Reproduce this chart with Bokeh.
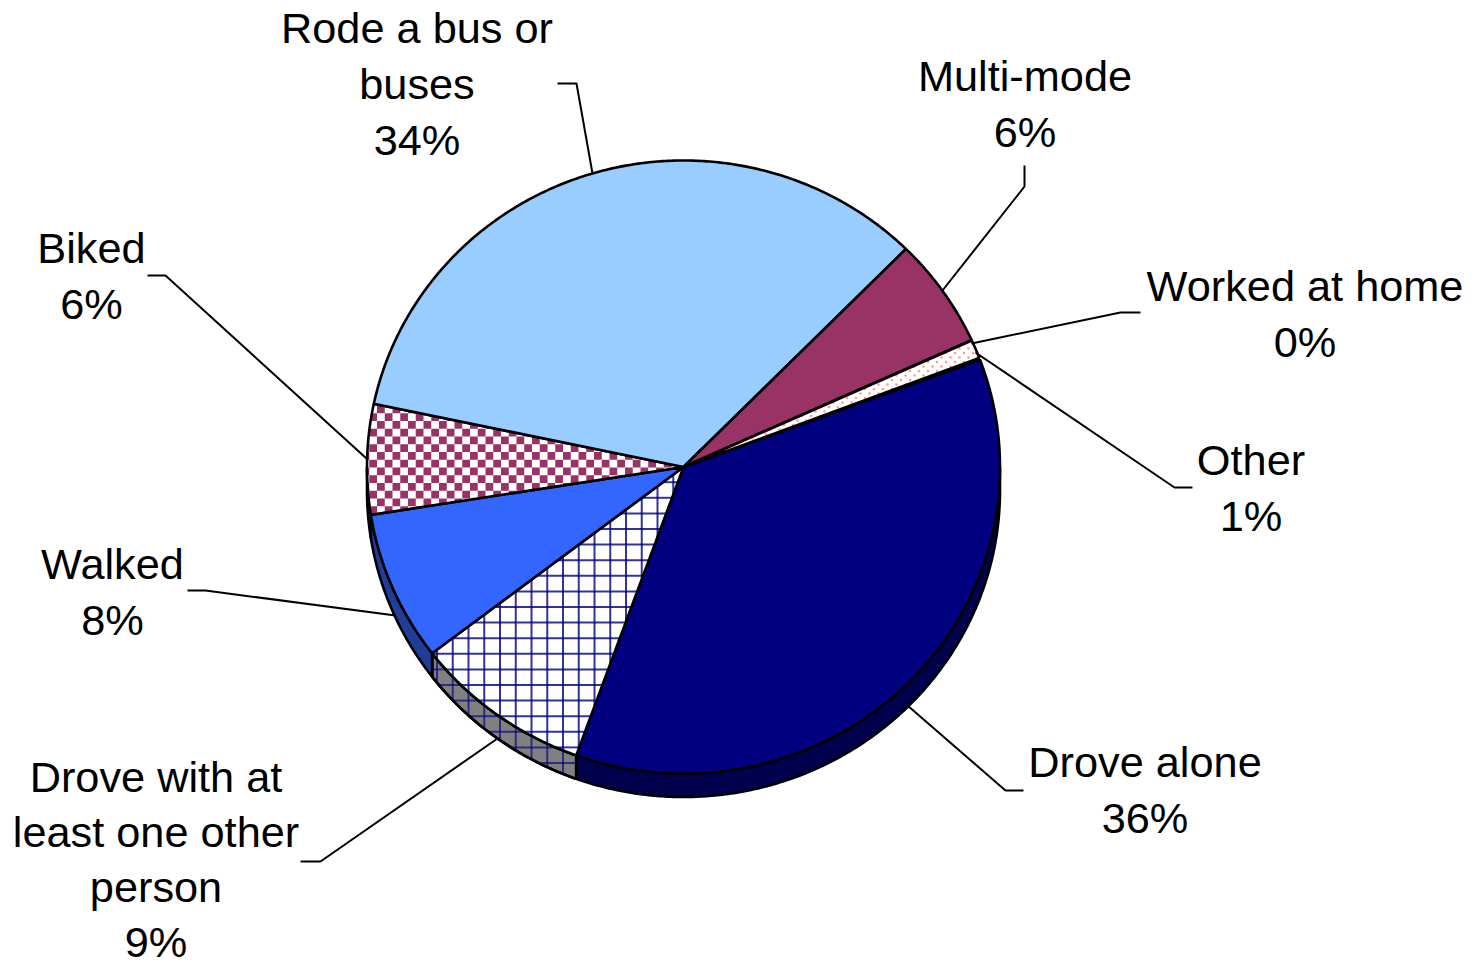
import numpy as np
from bokeh.plotting import figure
from bokeh.embed import file_html
from bokeh.resources import INLINE
from bokeh.core.properties import value

# ---- data ----
categories = ["Drove alone", "Drove with at least one other person", "Walked", "Biked",
              "Rode a bus or buses", "Multi-mode", "Worked at home", "Other"]
shares = [36.2, 9.1, 7.9, 5.8, 34.1, 5.8, 0.02, 0.98]
percent_labels = ["36%", "9%", "8%", "6%", "34%", "6%", "0%", "1%"]
label_lines = [["Drove alone"], ["Drove with at", "least one other", "person"], ["Walked"], ["Biked"],
               ["Rode a bus or", "buses"], ["Multi-mode"], ["Worked at home"], ["Other"]]

# ---- styling / layout ----
top_colors = ["#000080", "#FFFFFF", "#3366FF", "#FFFFFF", "#99CCFF", "#993366", "#FFFFFF", "#FFFFFF"]
side_colors = ["#00004D", "#808080", "#1F3D99", "#FFFFFF", "#5C7A99", "#5C1F3D", "#999999", "#999999"]
CX, CY, RX, RY, DEPTH = 683.0, 466.5, 316.5, 306.5, 23.5
START_DEG = 20.5
label_anchor = [(1144.5, 761), (155.5, 776), (112, 563), (91, 247), (416.5, 27), (1024.5, 75), (1304.5, 285), (1250.5, 459)]
label_pitch = [56, 55, 56, 56, 56, 56, 56, 56]
FONT = value("Liberation Sans")
FONT_SIZE = "43.3px"
leaders = [
    ([907, 1005, 1023], [705, 790, 790]),
    ([497, 320, 300], [738, 861, 861]),
    ([395, 205, 187], [615, 590, 590]),
    ([366, 165, 147], [458, 275, 275]),
    ([592, 576, 557], [173, 83, 83]),
    ([942, 1024, 1024], [290, 186, 165]),
    ([971, 1120, 1140], [343, 312, 312]),
    ([975, 1174, 1192], [352, 487, 487]),
]

p = figure(width=1475, height=966, x_range=(0, 1475), y_range=(966, 0),
           output_backend="svg", toolbar_location=None, min_border=0,
           x_axis_type="linear", tools="")
p.axis.visible = False
p.grid.visible = False
p.outline_line_color = None
p.background_fill_color = "#FFFFFF"
p.border_fill_color = "#FFFFFF"

edges = START_DEG - np.concatenate([[0], np.cumsum(shares)]) * 3.6


def arc(a0, a1, dy=0.0):
    n = max(2, int(abs(a1 - a0) * 2) + 2)
    t = np.radians(np.linspace(a0, a1, n))
    return CX + RX * np.cos(t), CY - RY * np.sin(t) + dy


def clip_convex(poly, cell):
    """Clip polygon `cell` to the convex polygon `poly` (Sutherland-Hodgman)."""
    out = list(cell)
    px, py = poly
    area = np.sum(px * np.roll(py, -1) - np.roll(px, -1) * py)
    sgn = 1 if area > 0 else -1
    for i in range(len(px)):
        ax, ay, bx, by = px[i], py[i], px[(i + 1) % len(px)], py[(i + 1) % len(px)]
        if ax == bx and ay == by:
            continue
        inside = lambda q: sgn * ((bx - ax) * (q[1] - ay) - (by - ay) * (q[0] - ax)) >= 0
        res = []
        for j in range(len(out)):
            c, d = out[j], out[(j + 1) % len(out)]
            ci, di = inside(c), inside(d)
            if ci:
                res.append(c)
            if ci != di:
                e1 = (bx - ax) * (c[1] - ay) - (by - ay) * (c[0] - ax)
                e2 = (bx - ax) * (d[1] - ay) - (by - ay) * (d[0] - ax)
                s = e1 / (e1 - e2)
                res.append((c[0] + s * (d[0] - c[0]), c[1] + s * (d[1] - c[1])))
        out = res
        if not out:
            return []
    return out


def line_in_poly(poly, fixed, vertical):
    """Pieces of an axis-aligned line inside a polygon (even-odd)."""
    px, py = poly
    a, b = (px, py) if vertical else (py, px)
    hits = []
    for i in range(len(a)):
        a0, a1, b0, b1 = a[i], a[(i + 1) % len(a)], b[i], b[(i + 1) % len(a)]
        if (a0 <= fixed) != (a1 <= fixed):
            hits.append(b0 + (fixed - a0) / (a1 - a0) * (b1 - b0))
    hits.sort()
    return [(hits[k], hits[k + 1]) for k in range(0, len(hits) - 1, 2)]


def grid_lines(poly, color, width, alpha=1.0):
    px, py = poly
    xs, ys = [], []
    for c in np.arange(468 - 15.75 * 20, 1000, 15.75):
        if px.min() < c < px.max():
            for s, e in line_in_poly(poly, c, True):
                xs.append([c, c]); ys.append([s, e])
    for c in np.arange(653.3 - 15.6 * 20, 820, 15.6):
        if py.min() < c < py.max():
            for s, e in line_in_poly(poly, c, False):
                xs.append([s, e]); ys.append([c, c])
    if xs:
        p.multi_line(xs, ys, line_color=color, line_width=width, line_alpha=alpha)


EDGE = 2.6

# side faces (front half only)
for i in range(len(shares)):
    lo, hi = edges[i + 1], edges[i]
    if lo < 0 and hi > -180:
        s0, s1 = max(lo, -180), min(hi, 0)
        tx, ty = arc(s1, s0)
        bx, by = arc(s0, s1, DEPTH)
        sx, sy = np.concatenate([tx, bx]), np.concatenate([ty, by])
        p.patch(sx, sy, fill_color=side_colors[i], line_color="#000000", line_width=EDGE)
        if i == 1:
            grid_lines((sx, sy), "#000080", 2, 0.65)
            p.patch(sx, sy, fill_color=None, line_color="#000000", line_width=EDGE)

# top faces
for i in range(len(shares)):
    ax, ay = arc(edges[i + 1], edges[i])
    wx, wy = np.concatenate([[CX], ax]), np.concatenate([[CY], ay])
    p.patch(wx, wy, fill_color=top_colors[i], line_color=None)
    if categories[i] == "Biked":
        pitch = 7.75
        qx, qy = [], []
        for m in range(0, 60):
            for n in range(0, 20):
                if (m + n) % 2:
                    continue
                x0 = 376.5 + m * pitch - pitch * 2
                y0 = 405 + n * pitch - pitch * 2
                c = clip_convex((wx, wy), [(x0, y0), (x0 + pitch, y0), (x0 + pitch, y0 + pitch), (x0, y0 + pitch)])
                if len(c) >= 3:
                    qx.append([q[0] for q in c]); qy.append([q[1] for q in c])
        p.patches(qx, qy, fill_color="#993366", line_color=None)
    if categories[i] == "Drove with at least one other person":
        grid_lines((wx, wy), "#000080", 2, 0.8)
    if categories[i] == "Other":
        dots_x, dots_y = [], []
        for r, yy in enumerate(np.arange(330, 470, 4.5)):
            for xx in np.arange(680 + (r % 2) * 4.5, 990, 9.0):
                if len(clip_convex((wx, wy), [(xx - .01, yy - .01), (xx + .01, yy - .01), (xx + .01, yy + .01), (xx - .01, yy + .01)])) >= 3:
                    dots_x.append(xx); dots_y.append(yy)
        p.scatter(dots_x, dots_y, size=2.6, fill_color="#FF9999", line_color=None)
    p.patch(wx, wy, fill_color=None, line_color="#000000", line_width=EDGE)

# leader lines
for lx, ly in leaders:
    p.line(lx, ly, line_color="#000000", line_width=2)

# labels
tx, ty, tt = [], [], []
for (x0, y0), lines, pct, lp in zip(label_anchor, label_lines, percent_labels, label_pitch):
    for k, s in enumerate(lines + [pct]):
        tx.append(x0); ty.append(y0 + k * lp); tt.append(s)
p.text(tx, ty, text=tt, text_font=FONT, text_font_size=FONT_SIZE, text_align="center",
       text_baseline="middle", text_color="#000000")

open("out.html", "w").write(file_html(p, INLINE))
